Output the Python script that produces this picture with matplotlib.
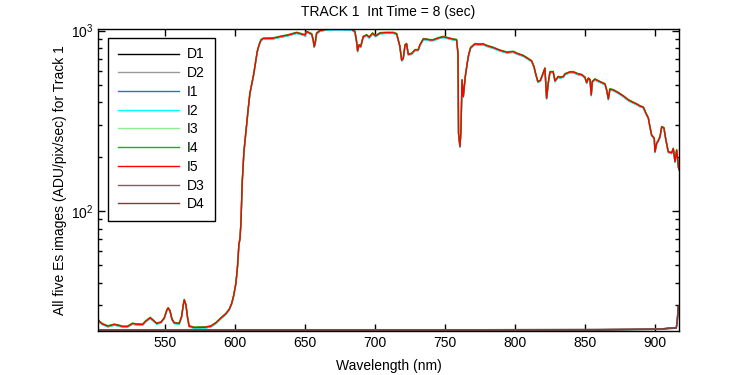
import matplotlib
matplotlib.use("Agg")
import matplotlib.pyplot as plt
from matplotlib.ticker import LogLocator, NullFormatter, MultipleLocator

plt.rcParams["font.family"] = ["Liberation Sans", "DejaVu Sans"]
plt.rcParams["mathtext.fontset"] = "custom"
plt.rcParams["mathtext.rm"] = "Liberation Sans"

# Es spectrum (all five images overlap closely)
wavelength = [
    502.0, 503.5, 505.0, 509.0, 513.6, 516.0, 519.6, 523.0, 526.7, 529.0,
    533.9, 536.0, 539.3, 541.4, 543.9, 547.0, 549.3, 551.2, 552.1, 553.4,
    554.8, 556.4, 560.0, 561.7, 562.9, 563.6, 564.8, 566.0, 567.1, 570.7,
    579.0, 582.6, 586.2, 589.8, 593.4, 595.7, 597.4, 598.9, 600.5, 601.7,
    602.6, 603.4, 604.1, 605.0, 606.2, 607.4, 608.4, 609.3, 610.5, 611.7,
    613.1, 614.6, 615.7, 617.0, 618.4, 620.0, 627.1, 631.9, 637.9, 643.9,
    647.4, 649.8, 651.0, 653.4, 654.6, 655.7, 656.4, 657.1, 658.1, 660.5,
    665.3, 672.4, 683.1, 685.5, 686.7, 687.4, 688.4, 689.6, 691.4, 693.9,
    695.7, 698.1, 700.3, 703.4, 708.1, 712.9, 715.3, 716.4, 717.5, 718.9,
    720.0, 721.3, 722.4, 723.6, 725.9, 728.4, 730.7, 731.9, 734.4, 736.7,
    739.0, 741.4, 745.0, 748.6, 755.7, 758.1, 759.1, 759.5, 760.5, 761.2,
    762.0, 762.9, 763.6, 764.3, 765.7, 766.7, 768.1, 771.2, 774.8, 776.9,
    779.6, 784.3, 789.1, 793.9, 798.6, 801.0, 805.7, 808.1, 811.7, 813.4,
    814.8, 816.2, 818.0, 821.2, 822.4, 823.6, 824.8, 827.1, 828.4, 830.7,
    832.0, 834.4, 835.5, 839.1, 841.5, 845.0, 847.4, 849.8, 851.0, 852.2,
    853.4, 854.3, 855.0, 856.9, 860.5, 864.1, 865.3, 866.5, 867.6, 870.0,
    873.6, 877.2, 880.8, 883.1, 886.7, 889.1, 891.5, 893.4, 895.1, 896.2,
    897.4, 899.3, 899.8, 901.0, 902.1, 903.4, 904.6, 906.2, 907.6, 909.3,
    911.7, 912.9, 914.1, 915.3, 916.5, 917.0,
]
es_signal = [
    25.0, 24.2, 23.7, 23.0, 23.5, 23.3, 22.9, 22.9, 23.8, 23.6,
    23.5, 24.5, 25.6, 24.8, 23.8, 24.2, 25.5, 28.3, 29.0, 28.0,
    25.2, 24.0, 23.8, 26.0, 30.2, 32.2, 30.2, 25.5, 23.0, 22.6,
    22.7, 23.0, 24.0, 25.5, 27.0, 28.5, 30.6, 34.0, 39.9, 50.0,
    65.0, 70.4, 87.0, 145.0, 213.0, 264.0, 313.0, 371.0, 450.0, 500.0,
    568.0, 673.0, 765.0, 833.0, 888.0, 905.0, 908.0, 926.0, 946.0, 975.0,
    958.0, 946.0, 988.0, 967.0, 958.0, 888.0, 815.0, 851.0, 967.0, 1000.0,
    1018.0, 1022.0, 1018.0, 988.0, 869.0, 772.0, 833.0, 815.0, 926.0, 946.0,
    919.0, 967.0, 935.0, 970.0, 975.0, 975.0, 960.0, 890.0, 825.0, 685.0,
    700.0, 833.0, 846.0, 740.0, 745.0, 782.0, 782.0, 833.0, 900.0, 896.0,
    888.0, 888.0, 910.0, 925.0, 896.0, 890.0, 749.0, 270.0, 228.0, 276.0,
    533.0, 431.0, 489.0, 556.0, 660.0, 733.0, 805.0, 844.0, 840.0, 844.0,
    826.0, 805.0, 778.0, 759.0, 765.0, 749.0, 727.0, 708.0, 679.0, 631.0,
    568.0, 521.0, 530.0, 619.0, 422.0, 514.0, 590.0, 592.0, 526.0, 556.0,
    551.0, 556.0, 575.0, 590.0, 590.0, 575.0, 570.0, 551.0, 515.0, 545.0,
    535.0, 440.0, 521.0, 538.0, 521.0, 506.0, 469.0, 418.0, 474.0, 469.0,
    453.0, 434.0, 413.0, 404.0, 392.0, 382.0, 376.0, 348.0, 327.0, 293.0,
    264.0, 253.0, 213.0, 237.0, 245.0, 258.0, 293.0, 289.0, 248.0, 213.0,
    210.0, 222.0, 188.0, 218.0, 176.0, 170.0,
]

image_names = ["I1", "I2", "I3", "I4", "I5"]
image_scale = [0.993, 0.99, 1.0, 1.006, 1.0]
image_colors = ["#2a6fdb", "#00ffff", "#90ee90", "#00c000", "#ff0000"]

# dark frames sit along the bottom
dark_wavelength = [502.0, 560.0, 620.0, 700.0, 780.0, 860.0, 904.6, 909.3, 915.0, 915.7, 916.4, 917.0]
dark_d1 = [21.9, 21.9, 21.9, 21.9, 21.9, 21.9, 22.1, 22.3, 22.4, 24.3, 29.4, 29.6]
dark_d2 = [22.0, 22.0, 22.0, 22.0, 22.0, 22.0, 22.2, 22.4, 22.5, 24.5, 29.6, 29.8]
dark_d3 = [22.0, 22.0, 22.0, 22.0, 22.0, 22.1, 22.2, 22.5, 22.5, 24.5, 29.6, 29.8]
dark_d4 = [21.9, 21.9, 21.9, 21.9, 21.9, 22.0, 22.2, 22.4, 22.5, 24.5, 29.6, 29.8]


def main():
    fig = plt.figure(figsize=(7.5, 3.75), dpi=100)
    ax = fig.add_axes([0.1307, 0.118, 0.7747, 0.8055])

    ax.plot(dark_wavelength, dark_d1, color="black", lw=1, label="D1")
    ax.plot(dark_wavelength, dark_d2, color="#999999", lw=1, label="D2")

    for name, scale, color in zip(image_names, image_scale, image_colors):
        ax.plot(wavelength, [v * scale for v in es_signal], color=color, lw=1, label=name)

    ax.plot(dark_wavelength, dark_d3, color="#7f5f5f", lw=1, label="D3")
    ax.plot(dark_wavelength, dark_d4, color="#803c3c", lw=1, label="D4")

    ax.set_yscale("log")
    ax.set_xlim(502, 917)
    ax.set_ylim(21.7, 1026)

    ax.xaxis.set_major_locator(MultipleLocator(50))
    ax.yaxis.set_major_locator(LogLocator(base=10))
    ax.yaxis.set_minor_locator(LogLocator(base=10, subs=range(2, 10)))
    ax.yaxis.set_minor_formatter(NullFormatter())

    ax.tick_params(which="both", direction="in", top=True, right=True,
                   labelsize=10, width=1, colors="black")
    ax.tick_params(which="major", length=5)
    ax.tick_params(which="minor", length=3)
    for side in ax.spines.values():
        side.set_linewidth(1)

    ax.set_xlabel("Wavelength (nm)", fontsize=10, labelpad=7)
    ax.set_ylabel("All five Es images (ADU/pix/sec) for Track 1", fontsize=10, labelpad=3)
    ax.set_title("TRACK 1  Int Time = 8 (sec)", fontsize=10, pad=9)

    leg = ax.legend(loc="upper left", bbox_to_anchor=(0.017, 0.97), fontsize=10,
                    handlelength=4.4, handletextpad=0.6, labelspacing=0.34,
                    borderpad=0.7, borderaxespad=0, fancybox=False,
                    framealpha=1, edgecolor="black")
    leg.get_frame().set_linewidth(1)

    fig.savefig("out.png", dpi=100, facecolor="white")
    plt.close(fig)


if __name__ == "__main__":
    main()
